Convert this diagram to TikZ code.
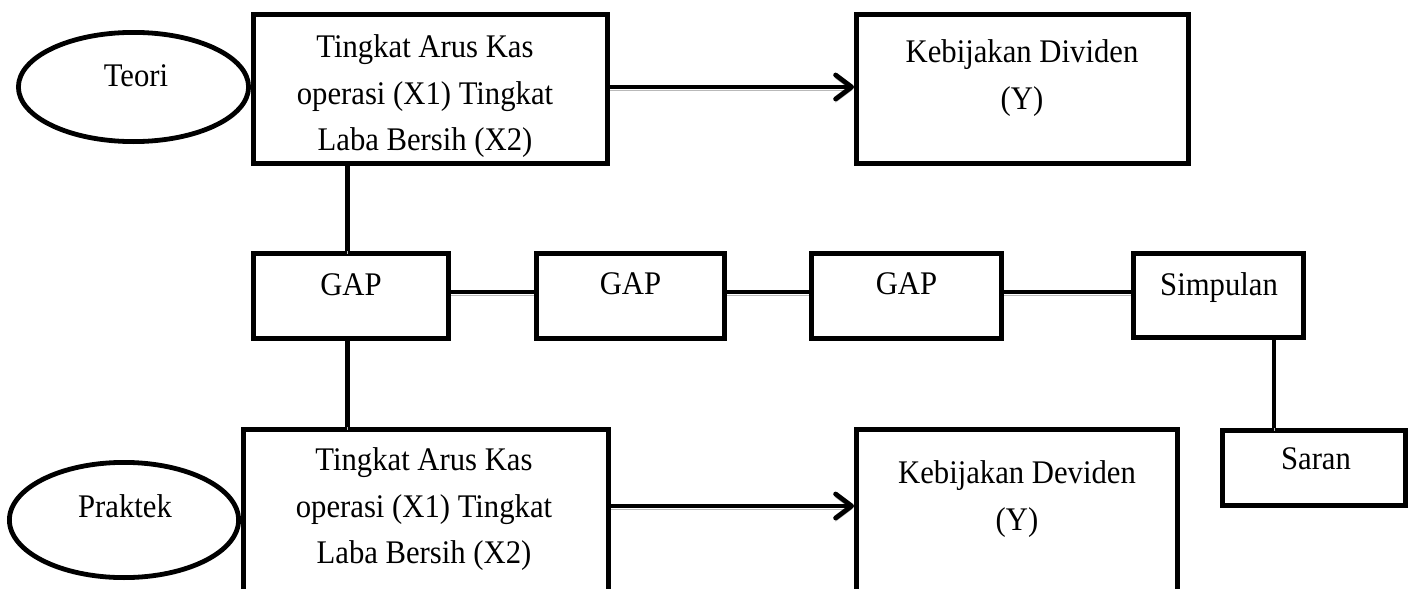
\documentclass[tikz,border=0pt]{standalone}
\usepackage{fontspec}
\setmainfont{Liberation Serif}[FakeStretch=0.93]
\usetikzlibrary{shapes.geometric,arrows.meta}
\begin{document}
\begin{tikzpicture}[x=0.5pt,y=-0.5pt,
  lw/.style={line width=2.4pt},
  box/.style={draw, lw, rectangle, inner sep=0pt},
  oval/.style={draw, lw, ellipse, inner sep=0pt},
  txt/.style={font=\fontsize{16.5}{23.2}\selectfont, align=center, inner sep=0pt},
  conn/.style={lw, preaction={draw=gray!55, transform canvas={yshift=-1.6pt}}},
  tip/.style={-{Straight Barb[length=8pt,width=12pt,round]}}
]
\useasboundingbox (0,0) rectangle (1409,589);
\clip (0,0) rectangle (1409,589);
\coordinate (v1) at (347.5,0);
\coordinate (v2) at (1274,0);
\coordinate (gy) at (0,292);
\coordinate (ay1) at (0,87);
\coordinate (ay2) at (0,506);

% ellipses
\node[oval, minimum width=115.1pt, minimum height=54.6pt] (teori) at (133.5,87) {};
\node[oval, minimum width=114.6pt, minimum height=57.6pt] (praktek) at (124,520) {};

% boxes
\node[box, minimum width=177.1pt, minimum height=74.6pt] (x1) at (430.5,89) {};
\node[box, minimum width=166.1pt, minimum height=74.6pt] (y1) at (1022.5,89) {};
\node[box, minimum width=97.6pt, minimum height=42.6pt] (g1) at (351,296) {};
\node[box, minimum width=94.1pt, minimum height=42.6pt] (g2) at (630.5,296) {};
\node[box, minimum width=95.1pt, minimum height=42.6pt] (g3) at (906.5,296) {};
\node[box, minimum width=85.1pt, minimum height=42.1pt] (simp) at (1218.5,295.5) {};
\node[box, minimum width=91.6pt, minimum height=37.6pt] (saran) at (1314,468) {};
\node[box, minimum width=182.6pt, minimum height=94.1pt] (x2) at (426,523.5) {};
\node[box, minimum width=160.6pt, minimum height=94.1pt] (y2) at (1017,523.5) {};

% texts
\node[txt, anchor=base] (tteori) at (136,86) {Teori};
\node[txt, anchor=base] (tprak) at (125,517) {Praktek};
\node[txt, anchor=north] (tx1) at (425,34.5) {Tingkat Arus Kas\\operasi (X1) Tingkat\\Laba Bersih (X2)};
\node[txt, anchor=north] (ty1) at (1022,39.5) {Kebijakan Dividen\\(Y)};
\node[txt, anchor=base] (tg1) at (351,295) {GAP};
\node[txt, anchor=base] (tg2) at (630.5,294.5) {GAP};
\node[txt, anchor=base] (tg3) at (906.5,294.5) {GAP};
\node[txt, anchor=base] (tsimp) at (1219,295) {Simpulan};
\node[txt, anchor=base] (tsaran) at (1316,469) {Saran};
\node[txt, anchor=north] (tx2) at (424,447.5) {Tingkat Arus Kas\\operasi (X1) Tingkat\\Laba Bersih (X2)};
\node[txt, anchor=north] (ty2) at (1017,460.5) {Kebijakan Deviden\\(Y)};

% connectors
\draw[conn] (x1.south -| v1) -- (g1.north -| v1);
\draw[conn] (g1.south -| v1) -- (x2.north -| v1);
\draw[conn] (g1.east |- gy) -- (g2.west |- gy);
\draw[conn] (g2.east |- gy) -- (g3.west |- gy);
\draw[conn] (g3.east |- gy) -- (simp.west |- gy);
\draw[conn] (simp.south -| v2) -- (saran.north -| v2);
\draw[conn, tip] (x1.east |- ay1) -- (y1.west |- ay1);
\draw[conn, tip] (x2.east |- ay2) -- (y2.west |- ay2);
\end{tikzpicture}
\end{document}
